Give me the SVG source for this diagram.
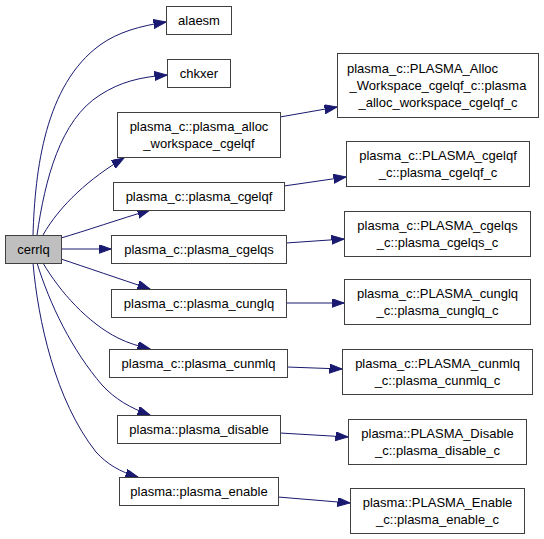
<svg xmlns="http://www.w3.org/2000/svg" width="544" height="539" viewBox="0 0 544 539">
<style>
.n rect{fill:#ffffff;stroke:#404040;stroke-width:1}
#cerrlq rect{fill:#bfbfbf}
text{font-family:"Liberation Sans",Arial,sans-serif;font-size:13px;fill:#000000;text-anchor:middle}
.e path{fill:none;stroke:#191970;stroke-width:1;marker-end:url(#ah)}
</style>
<defs>
<marker id="ah" markerUnits="userSpaceOnUse" markerWidth="14" markerHeight="11" refX="12.5" refY="4.5" orient="auto">
<path d="M0,0 L12.5,4.5 L0,9 z" fill="#191970" stroke="#191970" stroke-width="1"/>
</marker>
</defs>
<rect width="544" height="539" fill="#ffffff"/>
<g class="e" id="edges">
<path d="M33,235 C35,170 45,85 100,45 C118,32 140,26 166,22"/>
<path d="M37,235 C45,180 60,120 100,95 C120,82 140,77 167,75"/>
<path d="M43,235 C60,205 90,178 124,158"/>
<path d="M61,238 C85,231 120,219 150,210"/>
<path d="M61,249 L111,249"/>
<path d="M61,259 C85,267 120,279 150,289"/>
<path d="M43,263 C60,292 88,323 118,338 C128,343 138,346 150,349"/>
<path d="M37,263 C50,305 72,350 102,385 C115,399 130,408 150,415"/>
<path d="M33,263 C38,320 55,400 96,452 C107,464 120,472 138,477"/>
<path d="M280,117 L337,107"/>
<path d="M284,186 L346,177"/>
<path d="M286,243 L344,239"/>
<path d="M286,303 L344,303"/>
<path d="M287,367 L342,369"/>
<path d="M280,433 L348,437"/>
<path d="M278,497 L350,503"/>
</g>
<g class="n" id="cerrlq"><rect x="5.5" y="235.5" width="56" height="28"/><text x="33.5" y="254">cerrlq</text></g>
<g class="n" id="alaesm"><rect x="166.5" y="6.5" width="65" height="28"/><text x="199" y="25">alaesm</text></g>
<g class="n" id="chkxer"><rect x="167.5" y="59.5" width="63" height="28"/><text x="199" y="78">chkxer</text></g>
<g class="n" id="alloc"><rect x="117.5" y="112.5" width="163" height="45"/><text x="199" y="131">plasma_c::plasma_alloc</text><text x="199" y="148">_workspace_cgelqf</text></g>
<g class="n" id="cgelqf"><rect x="113.5" y="182.5" width="171" height="28"/><text x="199" y="201">plasma_c::plasma_cgelqf</text></g>
<g class="n" id="cgelqs"><rect x="111.5" y="235.5" width="175" height="28"/><text x="199" y="254">plasma_c::plasma_cgelqs</text></g>
<g class="n" id="cunglq"><rect x="111.5" y="289.5" width="175" height="28"/><text x="199" y="308">plasma_c::plasma_cunglq</text></g>
<g class="n" id="cunmlq"><rect x="109.5" y="349.5" width="178" height="28"/><text x="198.5" y="368">plasma_c::plasma_cunmlq</text></g>
<g class="n" id="disable"><rect x="117.5" y="415.5" width="163" height="28"/><text x="199" y="434">plasma::plasma_disable</text></g>
<g class="n" id="enable"><rect x="119.5" y="477.5" width="159" height="28"/><text x="199" y="496">plasma::plasma_enable</text></g>
<g class="n" id="alloc_c"><rect x="337.5" y="53.5" width="201" height="64"/><text x="347" y="72.5" style="text-anchor:start">plasma_c::PLASMA_Alloc</text><text x="438" y="89.5">_Workspace_cgelqf_c::plasma</text><text x="438" y="106.5">_alloc_workspace_cgelqf_c</text></g>
<g class="n" id="cgelqf_c"><rect x="346.5" y="141.5" width="183" height="45"/><text x="438" y="160">plasma_c::PLASMA_cgelqf</text><text x="438" y="177">_c::plasma_cgelqf_c</text></g>
<g class="n" id="cgelqs_c"><rect x="344.5" y="211.5" width="186" height="45"/><text x="437.5" y="230">plasma_c::PLASMA_cgelqs</text><text x="437.5" y="247">_c::plasma_cgelqs_c</text></g>
<g class="n" id="cunglq_c"><rect x="344.5" y="279.5" width="186" height="45"/><text x="437.5" y="298">plasma_c::PLASMA_cunglq</text><text x="437.5" y="315">_c::plasma_cunglq_c</text></g>
<g class="n" id="cunmlq_c"><rect x="342.5" y="349.5" width="190" height="45"/><text x="437.5" y="368">plasma_c::PLASMA_cunmlq</text><text x="437.5" y="385">_c::plasma_cunmlq_c</text></g>
<g class="n" id="disable_c"><rect x="348.5" y="419.5" width="178" height="45"/><text x="437.5" y="438">plasma::PLASMA_Disable</text><text x="437.5" y="455">_c::plasma_disable_c</text></g>
<g class="n" id="enable_c"><rect x="350.5" y="488.5" width="174" height="45"/><text x="437.5" y="507">plasma::PLASMA_Enable</text><text x="437.5" y="524">_c::plasma_enable_c</text></g>
</svg>
